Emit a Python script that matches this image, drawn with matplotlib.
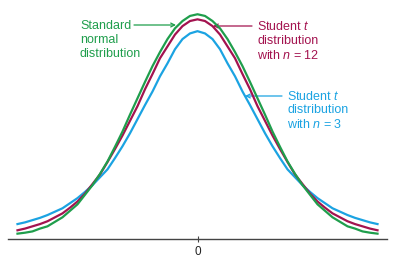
import matplotlib
matplotlib.use("Agg")
import matplotlib.pyplot as plt

plt.rcParams['font.family'] = ['Liberation Sans', 'DejaVu Sans']
plt.rcParams['mathtext.fontset'] = 'custom'
plt.rcParams['mathtext.rm'] = 'Liberation Sans'
plt.rcParams['mathtext.it'] = 'Liberation Sans:italic'

# half grid (x >= 0); curves are symmetric
x_half = [0, 0.125, 0.25, 0.375, 0.5, 0.625, 0.75, 0.875, 1.0, 1.125, 1.25,
          1.375, 1.5, 1.625, 1.75, 1.875, 2.0, 2.125, 2.25, 2.375, 2.5,
          2.625, 2.75, 2.875, 3.0]
normal_half = [0.399, 0.396, 0.387, 0.374, 0.355, 0.332, 0.307, 0.279, 0.250,
               0.221, 0.191, 0.164, 0.138, 0.116, 0.096, 0.079, 0.062, 0.0505,
               0.039, 0.031, 0.023, 0.019, 0.014, 0.0117, 0.010]
t12_half = [0.390, 0.387, 0.378, 0.363, 0.342, 0.321, 0.293, 0.266, 0.236,
            0.210, 0.184, 0.160, 0.137, 0.115, 0.098, 0.081, 0.067, 0.056,
            0.046, 0.039, 0.032, 0.027, 0.023, 0.019, 0.016]
t3_half = [0.369, 0.365, 0.355, 0.337, 0.312, 0.289, 0.262, 0.238, 0.213,
           0.188, 0.165, 0.144, 0.124, 0.110, 0.096, 0.084, 0.073, 0.064,
           0.055, 0.049, 0.043, 0.038, 0.034, 0.030, 0.027]

x = [-v for v in x_half[:0:-1]] + x_half
normal = normal_half[:0:-1] + normal_half
t12 = t12_half[:0:-1] + t12_half
t3 = t3_half[:0:-1] + t3_half

tick_labels = ["0"]

GREEN = "#1f9e4c"
MAROON = "#a3134f"
BLUE = "#1ba3e2"

fig = plt.figure(figsize=(4.0, 2.62), dpi=100)
ax = fig.add_axes([8/400, (262-239.3)/262, 379/400, 234.3/262])
ax.set_xlim(-3.158, 3.158)
ax.set_ylim(0, 0.4154)

ax.plot(x, t3, color=BLUE, lw=1.6, solid_joinstyle='round', zorder=3)
ax.plot(x, t12, color=MAROON, lw=1.6, solid_joinstyle='round', zorder=4)
ax.plot(x, normal, color=GREEN, lw=1.6, solid_joinstyle='round', zorder=5)

for s in ['top', 'right', 'left']:
    ax.spines[s].set_visible(False)
ax.spines['bottom'].set_color('#444444')
ax.spines['bottom'].set_linewidth(1.0)
ax.set_yticks([])
ax.set_xticks([0])
ax.set_xticklabels(tick_labels, fontsize=8.5, color='#222222')
ax.tick_params(axis='x', direction='inout', length=5, width=0.8, color='#444444', pad=2)


def px(xp, yp):
    return (xp / 400, (262 - yp) / 262)


fs = 9
ls = 1.2
fig.text(*px(80, 40), "Standard\nnormal\ndistribution", color=GREEN, fontsize=fs,
         va='center', ha='left', linespacing=ls)
ax.annotate("", xy=px(176, 25), xycoords='figure fraction', xytext=px(134, 25),
            textcoords='figure fraction',
            arrowprops=dict(arrowstyle='->', color=GREEN, lw=0.9,
                            shrinkA=0, shrinkB=0, mutation_scale=7))

fig.text(*px(257, 41), "Student $t$\ndistribution\nwith $n$ = 12", color=MAROON,
         fontsize=fs, va='center', ha='left', linespacing=ls)
ax.annotate("", xy=px(213, 26), xycoords='figure fraction', xytext=px(252, 26),
            textcoords='figure fraction',
            arrowprops=dict(arrowstyle='->', color=MAROON, lw=0.9,
                            shrinkA=0, shrinkB=0, mutation_scale=7))

fig.text(*px(287, 110.5), "Student $t$\ndistribution\nwith $n$ = 3", color=BLUE,
         fontsize=fs, va='center', ha='left', linespacing=ls)
ax.annotate("", xy=px(245, 96), xycoords='figure fraction', xytext=px(282, 96),
            textcoords='figure fraction',
            arrowprops=dict(arrowstyle='->', color=BLUE, lw=0.9,
                            shrinkA=0, shrinkB=0, mutation_scale=7))

fig.savefig("out.png", dpi=100)
